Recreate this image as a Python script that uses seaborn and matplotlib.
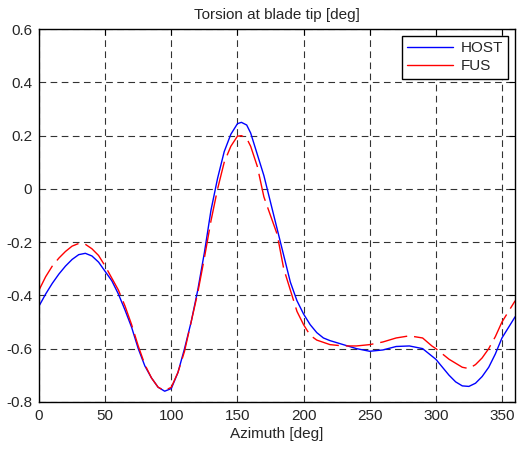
import seaborn as sns
import numpy as np
import matplotlib.pyplot as plt
from matplotlib.lines import Line2D

# datos
az_host = [0, 5, 10, 15, 20, 25, 30, 35, 40, 45, 50, 55, 60, 65, 70, 75, 80, 85, 90, 95,
           100, 105, 110, 115, 120, 125, 130, 135, 140, 145, 150, 153, 157, 160, 165, 170,
           175, 180, 185, 190, 195, 200, 205, 210, 215, 220, 230, 240, 250, 260, 270, 280,
           290, 300, 310, 315, 320, 325, 330, 335, 340, 345, 350, 355, 360]
host = [-0.44, -0.395, -0.355, -0.32, -0.29, -0.265, -0.247, -0.242, -0.252, -0.275,
        -0.31, -0.345, -0.395, -0.455, -0.52, -0.6, -0.665, -0.71, -0.745, -0.76, -0.75,
        -0.69, -0.6, -0.5, -0.38, -0.24, -0.08, 0.04, 0.14, 0.205, 0.245, 0.25, 0.24,
        0.21, 0.13, 0.05, -0.05, -0.15, -0.25, -0.35, -0.42, -0.47, -0.51, -0.54, -0.56,
        -0.57, -0.585, -0.6, -0.61, -0.605, -0.592, -0.59, -0.6, -0.64, -0.7, -0.725,
        -0.74, -0.742, -0.73, -0.705, -0.67, -0.62, -0.56, -0.52, -0.48]

az_fus = [0, 5, 10, 15, 20, 25, 30, 35, 40, 45, 50, 55, 60, 65, 70, 75, 80, 85, 90, 95, 100,
          105, 110, 115, 120, 125, 130, 135, 140, 145, 150, 153, 157, 160, 165, 170, 175,
          180, 185, 190, 195, 200, 205, 210, 220, 230, 240, 250, 260, 270, 280, 290, 297,
          300, 310, 320, 325, 330, 335, 340, 345, 350, 355, 360]
fus = [-0.38, -0.33, -0.29, -0.26, -0.235, -0.215, -0.205, -0.208, -0.225, -0.25, -0.29,
       -0.335, -0.38, -0.44, -0.51, -0.59, -0.66, -0.71, -0.745, -0.758, -0.745, -0.69,
       -0.61, -0.5, -0.39, -0.26, -0.12, 0.0, 0.1, 0.16, 0.198, 0.2, 0.19, 0.16, 0.085,
       -0.03, -0.1, -0.17, -0.3, -0.38, -0.46, -0.51, -0.55, -0.568, -0.585, -0.59, -0.59,
       -0.585, -0.575, -0.56, -0.552, -0.56, -0.59, -0.6, -0.64, -0.67, -0.675, -0.66,
       -0.635, -0.6, -0.555, -0.5, -0.46, -0.42]

xticks = [0, 50, 100, 150, 200, 250, 300, 350]
yticks = [-0.8, -0.6, -0.4, -0.2, 0, 0.2, 0.4, 0.6]
ylabels = ["-0.8", "-0.6", "-0.4", "-0.2", "0", "0.2", "0.4", "0.6"]

sns.set_style("white")
plt.rcParams['font.family'] = ['Liberation Sans', 'DejaVu Sans']

fig = plt.figure(figsize=(5.17, 4.49), dpi=100)
ax = fig.add_axes([0.0755, 0.105, 0.921, 0.83])

sns.lineplot(x=az_host, y=host, color="blue", linewidth=1, ax=ax)
sns.lineplot(x=az_fus, y=fus, color="red", linewidth=1, ax=ax)
ax.lines[-1].set_dashes((20, 5))

ax.set_xlim(0, 360)
ax.set_ylim(-0.8, 0.6)
ax.set_xticks(xticks)
ax.set_yticks(yticks)
ax.set_yticklabels(ylabels)
ax.grid(True, color="black", linestyle=(0, (6, 4)), linewidth=0.8, alpha=0.8)
ax.tick_params(direction="in", length=4, top=True, right=True, labelsize=11,
               color="black", pad=5)
for s in ax.spines.values():
    s.set_color("black")
    s.set_linewidth(1)

ax.set_title("Torsion at blade tip [deg]", fontsize=11, pad=7)
ax.set_xlabel("Azimuth [deg]", fontsize=11, labelpad=3)

handles = [Line2D([], [], color="blue", lw=1), Line2D([], [], color="red", lw=1)]
leg = ax.legend(handles, ["HOST", "FUS"], loc="upper right", fancybox=False,
                edgecolor="black", framealpha=1, handlelength=3.0, fontsize=11,
                borderaxespad=0.45, labelspacing=0.25, borderpad=0.35,
                handletextpad=0.5)
leg.get_frame().set_linewidth(1)

fig.savefig("out.png", dpi=100)
